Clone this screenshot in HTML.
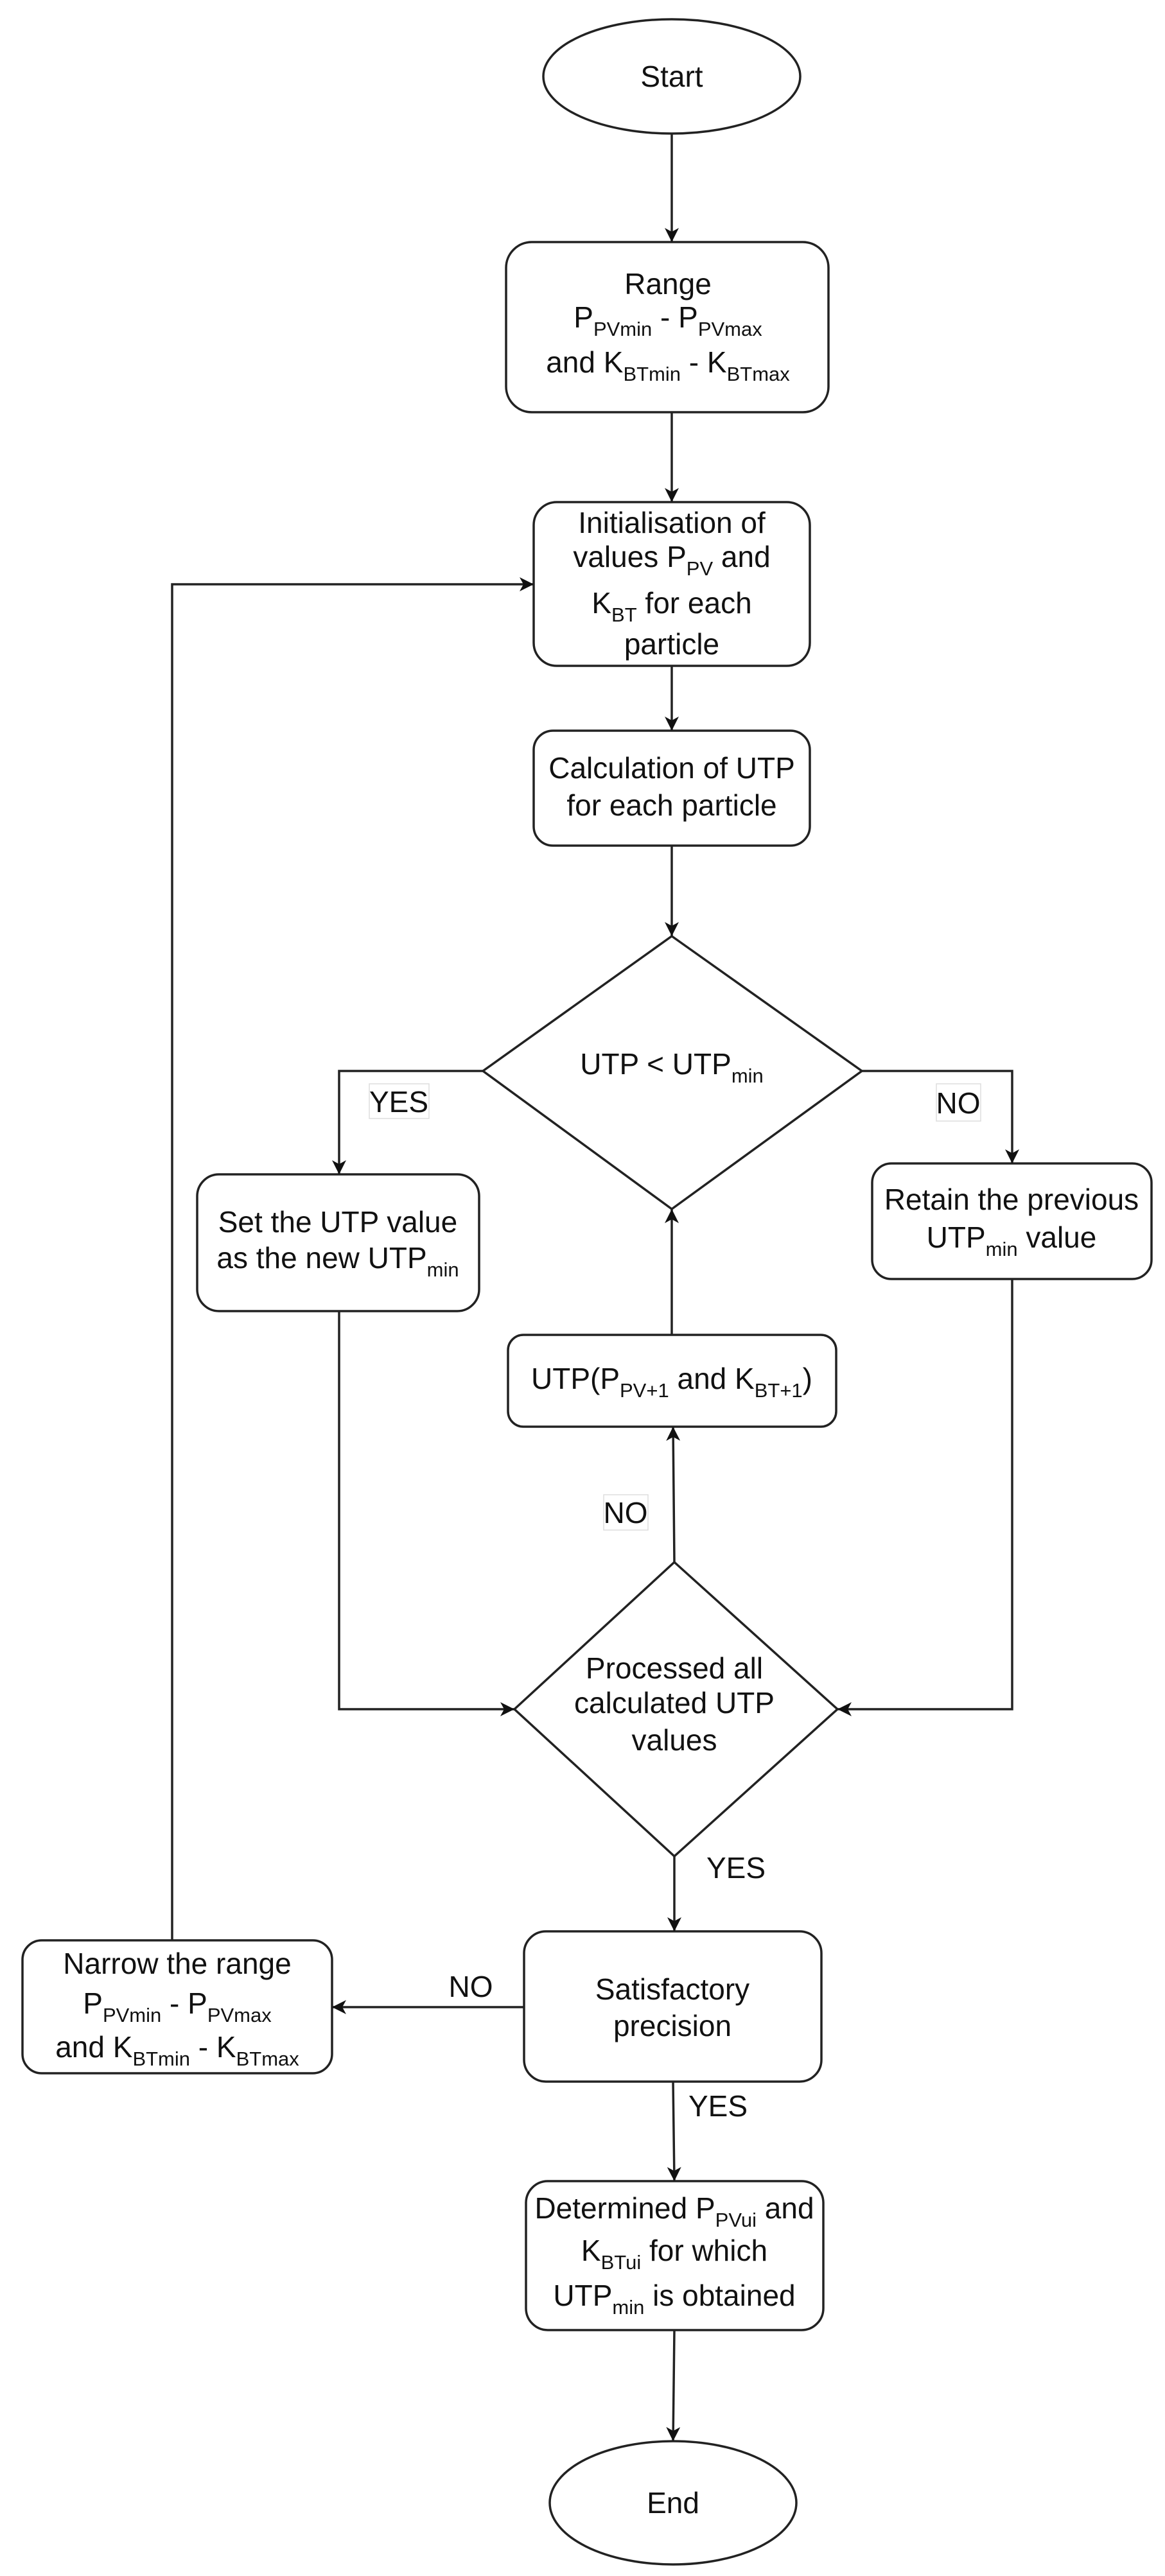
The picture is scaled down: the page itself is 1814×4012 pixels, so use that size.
<!DOCTYPE html>
<html><head><meta charset="utf-8"><style>
html,body{margin:0;padding:0;background:#fff;}
svg{display:block;}
text{font-family:"Liberation Sans",Arial,sans-serif;font-size:46px;fill:#111;}
.s{font-size:31px;}
</style></head><body>
<svg width="1814" height="4012" viewBox="0 0 1814 4012" xmlns="http://www.w3.org/2000/svg">
<defs>
<marker id="a" markerWidth="24" markerHeight="22" refX="22" refY="11" orient="auto" markerUnits="userSpaceOnUse">
<path d="M0,0 L22,11 L0,22 L6,11 Z" fill="#111"/>
</marker>
</defs>
<g fill="none" stroke="#222" stroke-width="3.5">
<!-- shapes -->
<ellipse cx="1046" cy="119" rx="200" ry="89" fill="#fff"/>
<rect x="788" y="377" width="502" height="265" rx="40" fill="#fff"/>
<rect x="831" y="782" width="430" height="255" rx="36" fill="#fff"/>
<rect x="831" y="1138" width="430" height="179" rx="30" fill="#fff"/>
<polygon points="1046,1458 1342,1668 1046,1883 752,1668" fill="#fff"/>
<rect x="307" y="1829" width="439" height="213" rx="34" fill="#fff"/>
<rect x="1358" y="1812" width="435" height="180" rx="30" fill="#fff"/>
<rect x="791" y="2079" width="511" height="143" rx="24" fill="#fff"/>
<polygon points="1050,2433 1304,2662 1050,2891 801,2662" fill="#fff"/>
<rect x="816" y="3008" width="463" height="234" rx="34" fill="#fff"/>
<rect x="35" y="3022" width="482" height="207" rx="30" fill="#fff"/>
<rect x="819" y="3397" width="463" height="232" rx="34" fill="#fff"/>
<ellipse cx="1048" cy="3898" rx="192" ry="96" fill="#fff"/>
<!-- connectors -->
<line x1="1046" y1="208" x2="1046" y2="377" marker-end="url(#a)"/>
<line x1="1046" y1="642" x2="1046" y2="782" marker-end="url(#a)"/>
<line x1="1046" y1="1037" x2="1046" y2="1138" marker-end="url(#a)"/>
<line x1="1046" y1="1317" x2="1046" y2="1458" marker-end="url(#a)"/>
<polyline points="752,1668 528,1668 528,1829" marker-end="url(#a)"/>
<polyline points="1342,1668 1576,1668 1576,1812" marker-end="url(#a)"/>
<line x1="1046" y1="2079" x2="1046" y2="1883" marker-end="url(#a)"/>
<line x1="1050" y1="2433" x2="1048" y2="2222" marker-end="url(#a)"/>
<polyline points="528,2042 528,2662 801,2662" marker-end="url(#a)"/>
<polyline points="1576,1992 1576,2662 1304,2662" marker-end="url(#a)"/>
<line x1="1050" y1="2891" x2="1050" y2="3008" marker-end="url(#a)"/>
<line x1="816" y1="3126" x2="517" y2="3126" marker-end="url(#a)"/>
<polyline points="268,3022 268,910 831,910" marker-end="url(#a)"/>
<line x1="1048" y1="3242" x2="1050" y2="3397" marker-end="url(#a)"/>
<line x1="1050" y1="3629" x2="1048" y2="3802" marker-end="url(#a)"/>
</g>
<!-- label boxes -->
<rect x="575" y="1688" width="93" height="54" fill="#fff" stroke="#ddd" stroke-width="1.5"/>
<rect x="1458" y="1688" width="69" height="58" fill="#fff" stroke="#ddd" stroke-width="1.5"/>
<rect x="940" y="2328" width="69" height="55" fill="#fff" stroke="#ddd" stroke-width="1.5"/>
<g text-anchor="middle">
<text x="1046" y="135">Start</text>
<text x="1040" y="458">Range</text>
<text x="1040" y="510">P<tspan class="s" dy="13">PVmin</tspan><tspan dy="-13"> - P</tspan><tspan class="s" dy="13">PVmax</tspan></text>
<text x="1040" y="580">and K<tspan class="s" dy="13">BTmin</tspan><tspan dy="-13"> - K</tspan><tspan class="s" dy="13">BTmax</tspan></text>
<text x="1046" y="830">Initialisation of</text>
<text x="1046" y="883">values P<tspan class="s" dy="13">PV</tspan><tspan dy="-13"> and</tspan></text>
<text x="1046" y="955">K<tspan class="s" dy="13">BT</tspan><tspan dy="-13"> for each</tspan></text>
<text x="1046" y="1019">particle</text>
<text x="1046" y="1212">Calculation of UTP</text>
<text x="1046" y="1270">for each particle</text>
<text x="1046" y="1673">UTP &lt; UTP<tspan class="s" dy="13">min</tspan></text>
<text x="621" y="1732">YES</text>
<text x="1492" y="1734">NO</text>
<text x="526" y="1919">Set the UTP value</text>
<text x="526" y="1975">as the new UTP<tspan class="s" dy="13">min</tspan></text>
<text x="1575" y="1884">Retain the previous</text>
<text x="1575" y="1943">UTP<tspan class="s" dy="13">min</tspan><tspan dy="-13"> value</tspan></text>
<text x="1046" y="2163">UTP(P<tspan class="s" dy="13">PV+1</tspan><tspan dy="-13"> and K</tspan><tspan class="s" dy="13">BT+1</tspan><tspan dy="-13">)</tspan></text>
<text x="974" y="2372">NO</text>
<text x="1050" y="2614">Processed all</text>
<text x="1050" y="2668">calculated UTP</text>
<text x="1050" y="2726">values</text>
<text x="1146" y="2925">YES</text>
<text x="1047" y="3114">Satisfactory</text>
<text x="1047" y="3171">precision</text>
<text x="733" y="3110">NO</text>
<text x="276" y="3074">Narrow the range</text>
<text x="276" y="3136">P<tspan class="s" dy="13">PVmin</tspan><tspan dy="-13"> - P</tspan><tspan class="s" dy="13">PVmax</tspan></text>
<text x="276" y="3204">and K<tspan class="s" dy="13">BTmin</tspan><tspan dy="-13"> - K</tspan><tspan class="s" dy="13">BTmax</tspan></text>
<text x="1118" y="3296">YES</text>
<text x="1050" y="3455">Determined P<tspan class="s" dy="13">PVui</tspan><tspan dy="-13"> and</tspan></text>
<text x="1050" y="3521">K<tspan class="s" dy="13">BTui</tspan><tspan dy="-13">  for which</tspan></text>
<text x="1050" y="3591">UTP<tspan class="s" dy="13">min</tspan><tspan dy="-13"> is obtained</tspan></text>
<text x="1048" y="3914">End</text>
</g>
</svg>
</body></html>
